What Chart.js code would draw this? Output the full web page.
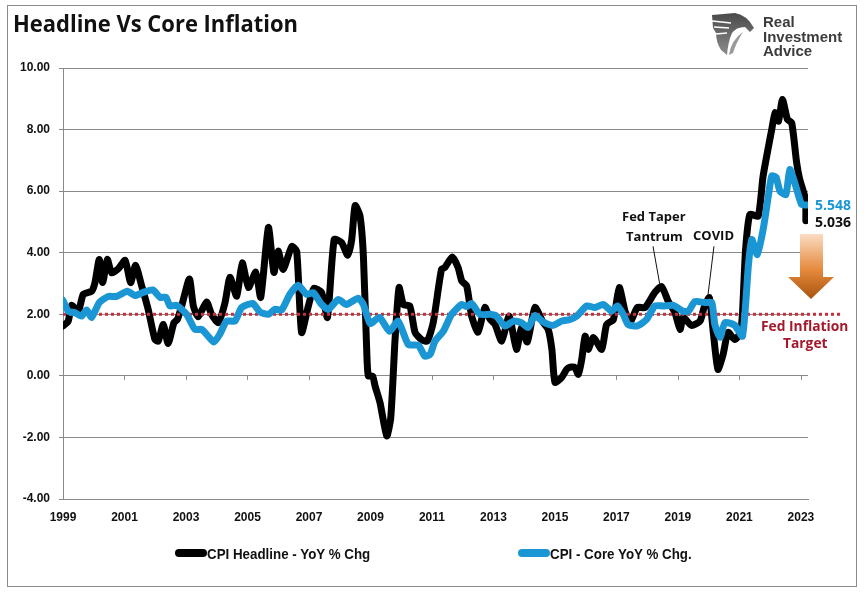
<!DOCTYPE html>
<html>
<head>
<meta charset="utf-8">
<title>Headline Vs Core Inflation</title>
<script src="https://cdn.jsdelivr.net/npm/chart.js@4/dist/chart.umd.min.js"></script>
<style>
  body { margin: 0; background: #fff; }
  #wrap { position: relative; width: 864px; height: 592px; overflow: hidden; font-family: "Open Sans", sans-serif; }
  #frame { position: absolute; left: 7px; top: 5px; width: 848px; height: 580px; border: 1px solid #8a8a8a; }
  canvas { position: absolute; left: 0; top: 0; }
  .txt { position: absolute; font-weight: 700; white-space: nowrap; line-height: 1; }
  #title { left: 13px; top: 11px; font-size: 24px; color: #111; transform: scaleX(0.915); transform-origin: left top; }
  .logoTxt { left: 763px; font: 700 15px "Liberation Sans", sans-serif; color: #3c3c3c; }
  .legendItem { position: absolute; top: 545px; height: 16px; font: 700 15px "Liberation Sans", sans-serif; color: #111; white-space: nowrap; }
  .legendItem i { position: absolute; left: 0; top: 4px; width: 32px; height: 8px; border-radius: 4px; }
  .legendItem span { position: absolute; left: 32px; top: 0; transform: scaleX(0.89); transform-origin: left top; }
</style>
</head>
<body>
<div id="wrap">
  <div id="frame"></div>
  <canvas id="chart" width="864" height="592"></canvas>
  <div class="txt" id="title">Headline Vs Core Inflation</div>

  <svg style="position:absolute;left:0;top:0" width="864" height="592">
    <defs>
      <linearGradient id="arrowFill" x1="0" y1="0" x2="0" y2="1">
        <stop offset="0" stop-color="#fbdcc4"/>
        <stop offset="0.55" stop-color="#e58a3c"/>
        <stop offset="1" stop-color="#a9530f"/>
      </linearGradient>
      <linearGradient id="logoFill" x1="0" y1="0" x2="0" y2="1">
        <stop offset="0" stop-color="#4a4a4a"/>
        <stop offset="1" stop-color="#8c8c8c"/>
      </linearGradient>
    </defs>
    <polygon points="800,234 823,234 823,277 834,277 811,299 788,277 800,277" fill="url(#arrowFill)"/>
    <path d="M712 15 L735 13 Q747 15 754 28 L750 32 L745 27 Q736 27 732 33 Q728 42 727 55 L721 50 Q716 42 716 33 L713 28 Z" fill="url(#logoFill)"/>
    <path d="M712 21 L731 23 M714 27 L729 28 M716 34 L727 33" stroke="#fff" stroke-width="1.3" fill="none"/>
    <path d="M729 55 Q731 40 743 32 Q736 43 733 53 Z" fill="#9a9a9a"/>
  </svg>

  <div class="txt logoTxt" style="top:13px">Real</div>
  <div class="txt logoTxt" style="top:28px">Investment</div>
  <div class="txt logoTxt" style="top:42px">Advice</div>

  <div class="txt" style="left:622px;top:210px;font-size:13px;color:#111">Fed Taper</div>
  <div class="txt" style="left:626px;top:230px;font-size:13px;color:#111">Tantrum</div>
  <div class="txt" style="left:693px;top:229px;font-size:13px;color:#111">COVID</div>
  <div class="txt" style="left:815px;top:198px;font-size:14px;color:#1a96d4">5.548</div>
  <div class="txt" style="left:815px;top:215px;font-size:14px;color:#111">5.036</div>
  <div class="txt" style="left:761px;top:319px;font-size:13.8px;color:#a5182c">Fed Inflation</div>
  <div class="txt" style="left:783px;top:336px;font-size:13.8px;color:#a5182c">Target</div>
  <div id="legend"></div>
</div>

<script>
const xTickYears = [1999,2001,2003,2005,2007,2009,2011,2013,2015,2017,2019,2021,2023];
const yTickValues = [-4,-2,0,2,4,6,8,10];

const headlineYears = [1999,1999.17,1999.28,1999.5,1999.66,1999.93,2000.04,2000.18,2000.29,2000.44,2000.58,2000.8,2001.02,2001.2,2001.36,2001.56,2001.77,2001.99,2002.1,2002.26,2002.42,2002.61,2002.72,2002.86,2003.11,2003.24,2003.4,2003.67,2003.83,2004.05,2004.27,2004.43,2004.65,2004.83,2005.03,2005.27,2005.43,2005.68,2005.86,2006,2006.16,2006.44,2006.6,2006.76,2006.98,2007.16,2007.41,2007.6,2007.82,2008.06,2008.26,2008.39,2008.5,2008.66,2008.77,2008.88,2008.93,2009.07,2009.15,2009.31,2009.53,2009.66,2009.8,2009.93,2010.07,2010.28,2010.45,2010.66,2010.85,2011.04,2011.31,2011.42,2011.66,2011.85,2011.97,2012.13,2012.29,2012.5,2012.72,2012.89,2013.05,2013.27,2013.51,2013.75,2013.91,2014.1,2014.35,2014.62,2014.78,2014.9,2015,2015.22,2015.38,2015.49,2015.65,2015.76,2015.87,2015.98,2016.08,2016.25,2016.52,2016.68,2016.9,2017.09,2017.28,2017.44,2017.68,2017.93,2018.25,2018.47,2018.68,2018.9,2019.07,2019.17,2019.44,2019.72,2019.85,2020.02,2020.15,2020.3,2020.47,2020.63,2020.85,2021.03,2021.1,2021.2,2021.34,2021.61,2021.77,2022.05,2022.16,2022.27,2022.4,2022.56,2022.7,2022.86,2022.96,2023.15,2023.16];
const headlineValues = [1.62,1.78,2.29,2.1,2.65,2.75,3.03,3.78,3.03,3.78,3.35,3.48,3.75,3.03,3.59,2.92,2.16,1.18,1.13,1.67,1.05,1.73,1.83,2.27,3.15,2.27,1.92,2.4,2,1.73,2.38,3.2,2.59,3.67,2.87,3.37,2.55,4.82,3.36,4.05,3.46,4.2,4.05,1.41,2.27,2.84,2.71,1.9,4.43,4.33,3.92,4.43,5.53,5.19,3.89,0.76,0,-0.01,-0.33,-0.87,-1.95,-1.36,1.19,2.87,2.32,2.27,1.41,1.18,1.13,1.73,3.46,3.52,3.86,3.52,3.08,2.92,1.94,1.42,2.22,1.84,1.67,1.13,1.94,0.86,1.57,1.1,2.22,1.73,1.51,0.86,-0.21,-0.05,0.21,0.28,0.27,0.05,0.53,1.29,0.86,1.25,0.86,1.67,1.83,2.87,2.1,1.73,2.22,2.22,2.71,2.9,2.43,2.06,1.51,1.9,1.64,1.78,2.22,2.54,1.41,0.21,0.7,1.41,1.18,1.4,2.06,4.1,5.24,5.19,6.49,8,8.55,8.27,8.98,8.33,8.22,6.93,6.38,5.73,5.04];

const coreYears = [1999,1999.17,1999.39,1999.6,1999.77,1999.93,2000.18,2000.47,2000.75,2001.09,2001.34,2001.61,2001.92,2002.16,2002.35,2002.48,2002.7,2003.02,2003.29,2003.51,2003.72,2003.91,2004.1,2004.32,2004.59,2004.81,2005.17,2005.41,2005.68,2005.89,2006.11,2006.38,2006.65,2006.92,2007.14,2007.41,2007.63,2007.95,2008.22,2008.6,2008.77,2008.99,2009.29,2009.62,2009.9,2010.23,2010.56,2010.77,2010.94,2011.1,2011.37,2011.64,2011.97,2012.13,2012.29,2012.56,2012.89,2013.1,2013.37,2013.65,2013.91,2014.13,2014.35,2014.62,2014.94,2015.22,2015.49,2015.71,2016.03,2016.3,2016.57,2016.84,2017.03,2017.22,2017.38,2017.68,2017.98,2018.25,2018.52,2018.85,2019.17,2019.34,2019.55,2019.88,2020.1,2020.2,2020.37,2020.53,2020.85,2021.1,2021.29,2021.4,2021.58,2021.77,2021.94,2022.05,2022.19,2022.32,2022.51,2022.64,2022.8,2023.02,2023.18];
const coreValues = [2.45,2.1,2.05,1.94,2.14,1.9,2.38,2.58,2.58,2.75,2.61,2.71,2.79,2.55,2.55,2.27,2.29,2,1.51,1.51,1.29,1.1,1.35,1.78,1.78,2.22,2.35,2.07,2,2.16,2.14,2.65,2.94,2.65,2.7,2.32,2.16,2.48,2.32,2.52,2.32,1.7,1.9,1.45,1.78,1.02,0.99,0.64,0.7,1.13,1.45,2,2.32,2.25,2.35,2,2,1.94,1.62,1.78,1.73,1.57,1.96,1.75,1.64,1.78,1.83,1.94,2.27,2.22,2.32,2.1,2.27,2,1.67,1.62,1.83,2.27,2.27,2.29,2.1,2.1,2.41,2.38,2.38,1.67,1.25,1.73,1.64,1.29,3.57,4.43,3.94,4.75,5.84,6.49,6.45,6,5.89,6.7,6.27,5.57,5.55];

// Fed target runs past the plot on the right, like the original
const targetYears = [1999,2024.37];
const targetValues = [2,2];

const taperLeaderYears = [2018.19,2018.41];
const taperLeaderValues = [4.2,2.97];
const covidLeaderYears = [2020.17,2019.98];
const covidLeaderValues = [4.2,2.65];

const pts = (xs, ys) => xs.map((x, i) => ({ x: x, y: ys[i] }));
const GRID = '#8a8a8a';

// small ticks hanging off the zero line
const zeroTicks = {
  id: 'zeroTicks',
  beforeDatasetsDraw(chart) {
    const c = chart.ctx, x = chart.scales.x, y0 = chart.scales.y.getPixelForValue(0);
    c.save();
    c.strokeStyle = GRID;
    c.lineWidth = 1;
    xTickYears.forEach(v => {
      const px = Math.round(x.getPixelForValue(v)) + 0.5;
      c.beginPath();
      c.moveTo(px, y0);
      c.lineTo(px, y0 + 4);
      c.stroke();
    });
    c.restore();
  }
};

const htmlLegend = {
  id: 'htmlLegend',
  afterUpdate(chart) {
    const box = document.getElementById('legend');
    box.innerHTML = '';
    const lefts = [175, 518];
    chart.data.datasets.filter(d => d.inLegend).forEach((d, i) => {
      const el = document.createElement('div');
      el.className = 'legendItem';
      el.style.left = lefts[i] + 'px';
      el.innerHTML = `<i style="background:${d.borderColor}"></i><span>${d.label}</span>`;
      box.appendChild(el);
    });
  }
};

new Chart(document.getElementById('chart'), {
  type: 'line',
  data: {
    datasets: [
      { label: 'CPI Headline - YoY % Chg', inLegend: true, data: pts(headlineYears, headlineValues), borderColor: '#000000', borderWidth: 7, tension: 0.2, order: 3 },
      { label: 'CPI - Core YoY % Chg.', inLegend: true, data: pts(coreYears, coreValues), borderColor: '#1a96d4', borderWidth: 7, tension: 0.2, order: 1 },
      { label: 'Fed Inflation Target', data: pts(targetYears, targetValues), borderColor: '#c4303c', borderWidth: 3, borderDash: [3, 3], borderCapStyle: 'butt', clip: false, order: 2 },
      { label: 'Fed Taper Tantrum', data: pts(taperLeaderYears, taperLeaderValues), borderColor: '#111', borderWidth: 1, order: 0 },
      { label: 'COVID', data: pts(covidLeaderYears, covidLeaderValues), borderColor: '#111', borderWidth: 1, order: 0 }
    ]
  },
  options: {
    responsive: false,
    animation: false,
    parsing: false,
    elements: {
      point: { radius: 0 },
      line: { borderCapStyle: 'round', borderJoinStyle: 'round' }
    },
    layout: { padding: { left: 8, top: 68, right: 56, bottom: 53 } },
    plugins: { legend: { display: false }, tooltip: { enabled: false } },
    scales: {
      x: {
        type: 'linear',
        min: 1999,
        max: 2023.23,
        afterFit: s => { s.height = 40; },
        afterBuildTicks: s => { s.ticks = xTickYears.map(v => ({ value: v })); },
        grid: { display: false, drawTicks: false },
        border: { color: GRID },
        ticks: {
          maxRotation: 0,
          autoSkip: false,
          padding: 11,
          color: '#111',
          font: { family: 'Liberation Sans', size: 12, weight: 'bold' },
          callback: v => String(v)
        }
      },
      y: {
        min: -4,
        max: 10,
        afterFit: s => { s.width = 55; },
        afterBuildTicks: s => { s.ticks = yTickValues.map(v => ({ value: v })); },
        grid: { color: GRID, tickLength: 4, tickColor: GRID },
        border: { color: GRID },
        ticks: {
          padding: 9,
          color: '#111',
          font: { family: 'Liberation Sans', size: 12, weight: 'bold' },
          callback: v => v.toFixed(2)
        }
      }
    }
  },
  plugins: [zeroTicks, htmlLegend]
});
</script>
</body>
</html>
